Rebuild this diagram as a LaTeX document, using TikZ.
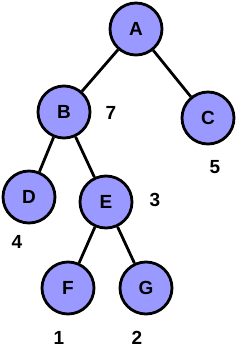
\documentclass[tikz,border=0pt]{standalone}
\usepackage{fontspec}
\setmainfont{Liberation Sans}
\definecolor{nodeblue}{HTML}{9999FF}
\begin{document}
\begin{tikzpicture}[
  x=1pt, y=-1pt,
  treenode/.style = {circle, draw=black, line width=2.8pt, fill=nodeblue,
    minimum size=52pt, inner sep=0pt, font=\fontsize{19}{22}\selectfont\bfseries},
  treeedge/.style = {line width=2.8pt, black},
  weightlbl/.style = {font=\fontsize{19}{22}\selectfont\bfseries}
]
  \useasboundingbox (0,0) rectangle (239,361);
  % nodes
  \node[treenode] (A) at (136,29) {A};
  \node[treenode] (B) at (64,112) {B};
  \node[treenode] (C) at (208,118) {C};
  \node[treenode] (D) at (29,197) {D};
  \node[treenode] (E) at (106,202) {E};
  \node[treenode] (F) at (68,288) {F};
  \node[treenode] (G) at (146,288) {G};
  % edges
  \draw[treeedge] (A) -- (B);
  \draw[treeedge] (A) -- (C);
  \draw[treeedge] (B) -- (D);
  \draw[treeedge] (B) -- (E);
  \draw[treeedge] (E) -- (F);
  \draw[treeedge] (E) -- (G);
  % weights
  \node[weightlbl] (wB) at (111,113) {7};
  \node[weightlbl] (wC) at (215,167) {5};
  \node[weightlbl] (wE) at (155,200) {3};
  \node[weightlbl] (wD) at (17,242) {4};
  \node[weightlbl] (wF) at (59,338) {1};
  \node[weightlbl] (wG) at (137,338) {2};
\end{tikzpicture}
\end{document}
